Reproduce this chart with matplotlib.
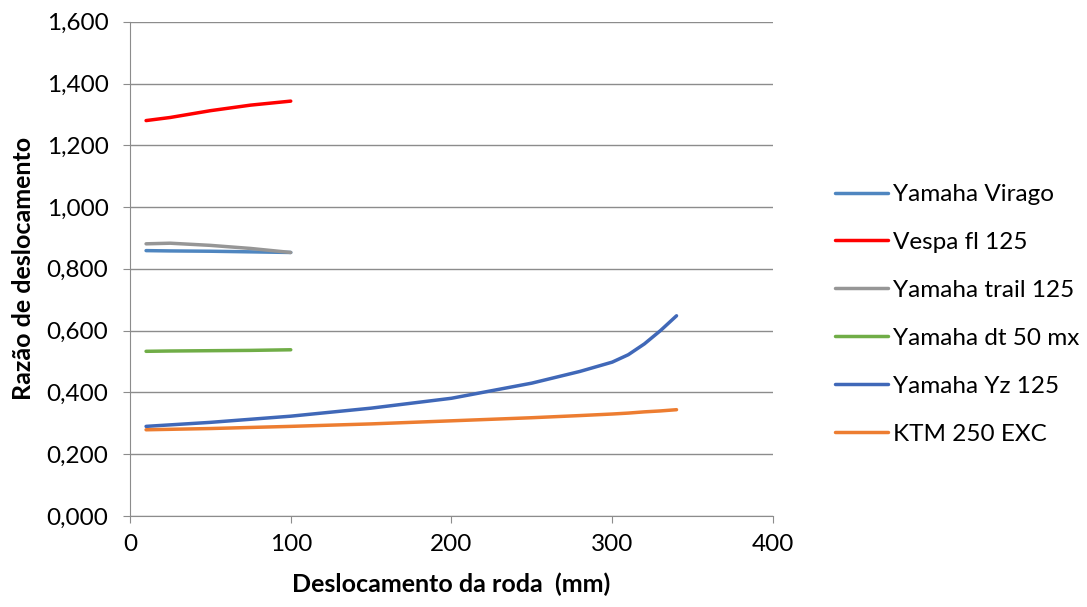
import numpy as np
import matplotlib
matplotlib.use('Agg')
import matplotlib.pyplot as plt
from matplotlib.ticker import FuncFormatter

plt.rcParams['font.family'] = ['Lato', 'DejaVu Sans']

# data
x_short = [10, 25, 50, 75, 100]
virago = [0.859, 0.858, 0.857, 0.855, 0.853]
vespa = [1.280, 1.290, 1.312, 1.330, 1.343]
trail = [0.881, 0.883, 0.876, 0.866, 0.853]
dt50 = [0.533, 0.534, 0.535, 0.536, 0.538]

x_long = [10, 50, 100, 150, 200, 250, 280, 300, 310, 320, 330, 340]
yz125 = [0.290, 0.303, 0.323, 0.349, 0.381, 0.430, 0.468, 0.498, 0.522, 0.557, 0.600, 0.648]
ktm250 = [0.279, 0.283, 0.290, 0.298, 0.308, 0.318, 0.325, 0.330, 0.333, 0.337, 0.340, 0.344]

labels = ['Yamaha Virago', 'Vespa fl 125', 'Yamaha trail 125',
          'Yamaha dt 50 mx', 'Yamaha Yz 125', 'KTM 250 EXC']
colors = ['#4F86C0', '#FF0000', '#969696', '#70AD47', '#4068B8', '#ED7D31']


def main():
    fig = plt.figure(figsize=(10.87, 6.07), dpi=100)
    ax = fig.add_axes([0.1196, 0.150, 0.5915, 0.8142])

    series = [(x_short, virago), (x_short, vespa), (x_short, trail),
              (x_short, dt50), (x_long, yz125), (x_long, ktm250)]
    for (xs, ys), lab, c in zip(series, labels, colors):
        ax.plot(xs, ys, color=c, lw=2.5, label=lab, solid_capstyle='round')

    ax.set_xlim(0, 400)
    ax.set_ylim(0, 1.6)
    ax.set_xticks([0, 100, 200, 300, 400])
    ax.set_yticks(np.arange(0, 1.61, 0.2))
    ax.yaxis.set_major_formatter(FuncFormatter(lambda v, p: f"{v:,.3f}".replace('.', ',')))
    ax.grid(axis='y', color='#8c8c8c', lw=1)
    ax.set_axisbelow(True)
    for s in ['top', 'right']:
        ax.spines[s].set_visible(False)
    ax.spines['left'].set_color('#8c8c8c')
    ax.spines['bottom'].set_color('#8c8c8c')
    ax.tick_params(axis='both', colors='#8c8c8c', labelcolor='black',
                   labelsize=17.5, length=5, direction='out')
    ax.tick_params(axis='y', pad=10.5)
    ax.tick_params(axis='x', pad=8)

    ax.set_xlabel('Deslocamento da roda  (mm)', fontsize=18, fontweight='bold', va='center')
    ax.set_ylabel('Razão de deslocamento', fontsize=18, fontweight='bold', va='center')
    ax.xaxis.set_label_coords(0.5, -0.1377)
    ax.yaxis.set_label_coords(-0.1664, 0.5)

    ax.legend(loc='center left', bbox_to_anchor=(0.768, 0.4819), bbox_transform=fig.transFigure,
              frameon=False, borderpad=0, borderaxespad=0,
              fontsize=17.5, handlelength=2.18, handletextpad=0.2, labelspacing=1.11)

    fig.savefig('out.png', dpi=100)


if __name__ == "__main__":
    main()
